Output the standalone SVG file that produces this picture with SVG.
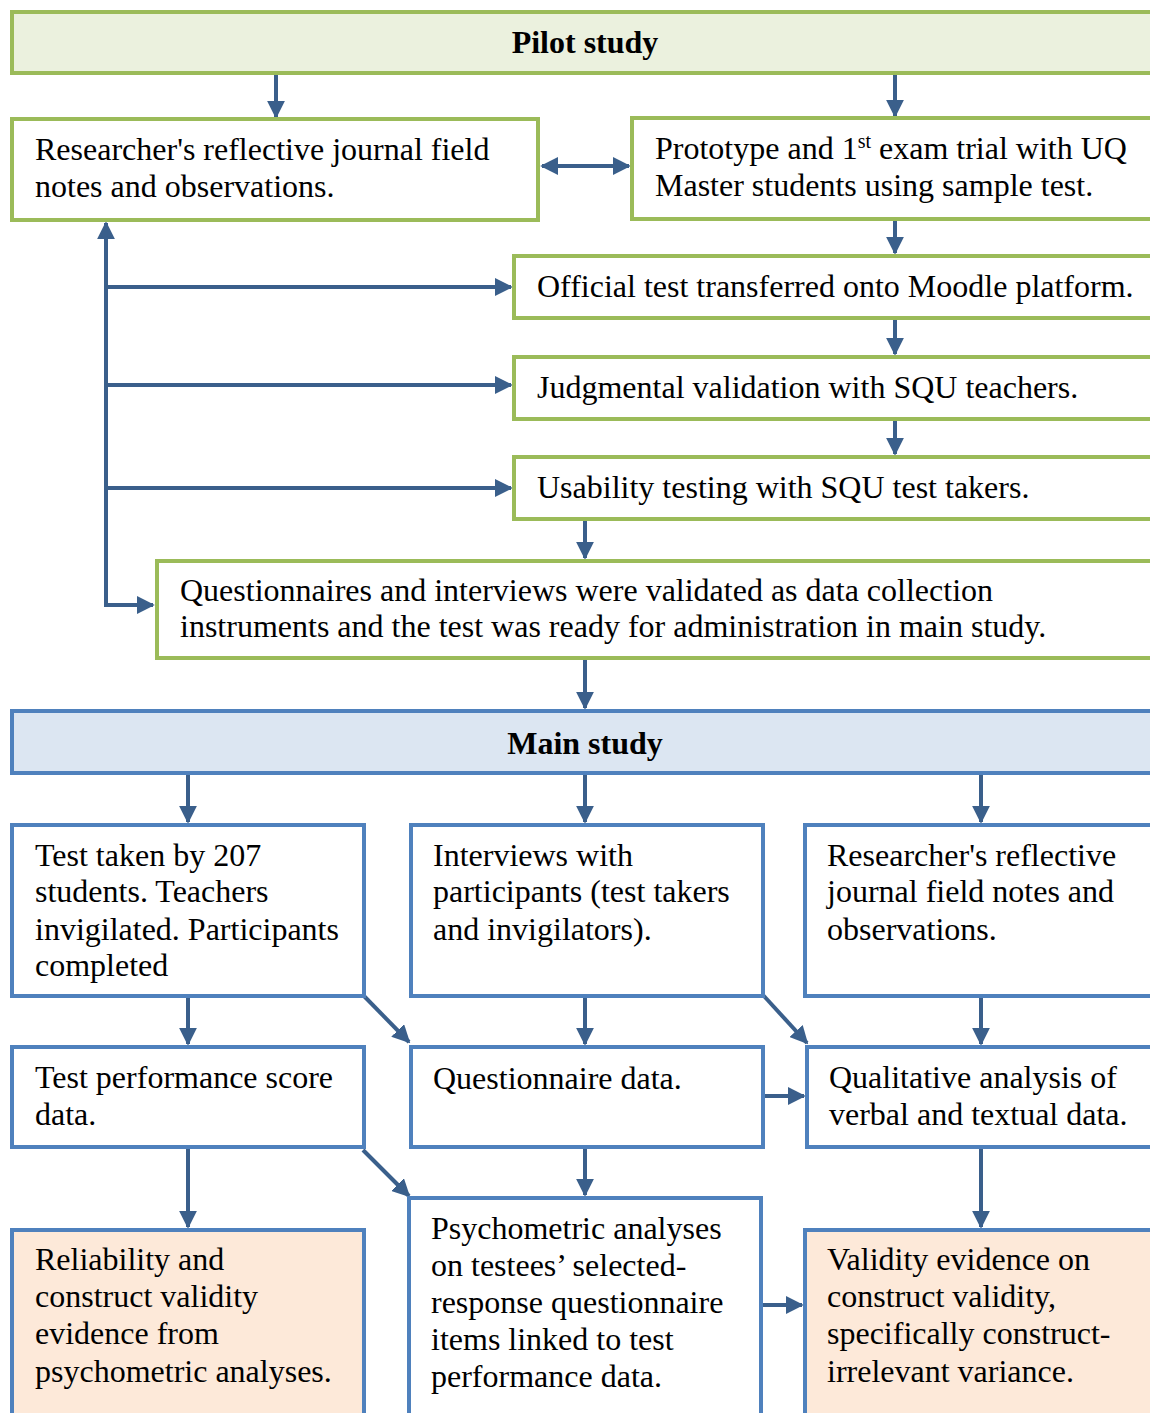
<svg xmlns="http://www.w3.org/2000/svg" width="1150" height="1413" viewBox="0 0 1150 1413">
<defs>
<marker id="ah" viewBox="0 0 10 10" refX="9" refY="5" markerWidth="4.5" markerHeight="4.5" markerUnits="strokeWidth" orient="auto-start-reverse"><path d="M0,0 L10,5 L0,10 Z" fill="#3A5F8B"/></marker>
<style>
.g{fill:#FFFFFF;stroke:#9BBB59;stroke-width:4}
.gh{fill:#EBF1DE;stroke:#9BBB59;stroke-width:4}
.b{fill:#FFFFFF;stroke:#4F81BD;stroke-width:4}
.bh{fill:#DCE6F2;stroke:#4F81BD;stroke-width:4}
.o{fill:#FDE9D9;stroke:#4F81BD;stroke-width:4}
.t{font-family:"Liberation Serif","Times New Roman",serif;font-size:32px;fill:#000}
.h{font-family:"Liberation Serif","Times New Roman",serif;font-size:32px;font-weight:bold;fill:#000}
.c{fill:none;stroke:#3A5F8B;stroke-width:4;marker-end:url(#ah)}
.l{fill:none;stroke:#3A5F8B;stroke-width:4}
</style>
</defs>
<g id="connectors">
<path class="c" d="M276,73 V117"/>
<path class="c" d="M895,73 V116"/>
<path class="c" style="marker-start:url(#ah)" d="M542,166 H629"/>
<path class="c" d="M895,220 V253"/>
<path class="c" d="M895,319 V354"/>
<path class="c" d="M895,420 V454"/>
<path class="c" d="M585,520 V558"/>
<path class="c" style="marker-start:url(#ah)" d="M106,223 V605 H153"/>
<path class="c" d="M106,287 H511"/>
<path class="c" d="M106,385 H511"/>
<path class="c" d="M106,488 H511"/>
<path class="c" d="M585,659 V708"/>
<path class="c" d="M188,774 V822"/>
<path class="c" d="M585,774 V822"/>
<path class="c" d="M981,774 V822"/>
<path class="c" d="M188,997 V1044"/>
<path class="c" d="M585,997 V1044"/>
<path class="c" d="M981,997 V1044"/>
<path class="c" d="M363,995 L409,1042"/>
<path class="c" d="M763,995 L807,1043"/>
<path class="c" d="M765,1096 H804"/>
<path class="c" d="M188,1148 V1227"/>
<path class="c" d="M585,1148 V1195"/>
<path class="c" d="M981,1148 V1227"/>
<path class="c" d="M363,1150 L409,1196"/>
<path class="c" d="M763,1305 H802"/>
</g>
<g id="pilot">
<rect class="gh" x="12" y="12" width="1150" height="61"/>
<text class="h" x="585" y="53" text-anchor="middle">Pilot study</text>
</g>
<g id="journal1">
<rect class="g" x="12" y="119" width="526" height="101"/>
<text class="t" x="35" y="160">Researcher's reflective journal field</text>
<text class="t" x="35" y="197">notes and observations.</text>
</g>
<g id="prototype">
<rect class="g" x="632" y="118" width="530" height="101"/>
<text class="t" x="655" y="159">Prototype and 1<tspan font-size="20" dy="-11">st</tspan><tspan dy="11"> exam trial with UQ</tspan></text>
<text class="t" x="655" y="196">Master students using sample test.</text>
</g>
<g id="official">
<rect class="g" x="514" y="256" width="650" height="62"/>
<text class="t" x="537" y="297">Official test transferred onto Moodle platform.</text>
</g>
<g id="judgmental">
<rect class="g" x="514" y="357" width="650" height="62"/>
<text class="t" x="537" y="398">Judgmental validation with SQU teachers.</text>
</g>
<g id="usability">
<rect class="g" x="514" y="457" width="650" height="62"/>
<text class="t" x="537" y="498">Usability testing with SQU test takers.</text>
</g>
<g id="validated">
<rect class="g" x="157" y="561" width="1010" height="97"/>
<text class="t" x="180" y="601">Questionnaires and interviews were validated as data collection</text>
<text class="t" x="180" y="637">instruments and the test was ready for administration in main study.</text>
</g>
<g id="main">
<rect class="bh" x="12" y="711" width="1150" height="62"/>
<text class="h" x="585" y="754" text-anchor="middle">Main study</text>
</g>
<g id="testtaken">
<rect class="b" x="12" y="825" width="352" height="171"/>
<text class="t" x="35" y="866">Test taken by 207</text>
<text class="t" x="35" y="902">students. Teachers</text>
<text class="t" x="35" y="940">invigilated. Participants</text>
<text class="t" x="35" y="976">completed</text>
</g>
<g id="interviews">
<rect class="b" x="411" y="825" width="352" height="171"/>
<text class="t" x="433" y="866">Interviews with</text>
<text class="t" x="433" y="902">participants (test takers</text>
<text class="t" x="433" y="940">and invigilators).</text>
</g>
<g id="journal2">
<rect class="b" x="805" y="825" width="360" height="171"/>
<text class="t" x="827" y="866">Researcher's reflective</text>
<text class="t" x="827" y="902">journal field notes and</text>
<text class="t" x="827" y="940">observations.</text>
</g>
<g id="scoredata">
<rect class="b" x="12" y="1047" width="352" height="100"/>
<text class="t" x="35" y="1088">Test performance score</text>
<text class="t" x="35" y="1125">data.</text>
</g>
<g id="qdata">
<rect class="b" x="411" y="1047" width="352" height="100"/>
<text class="t" x="433" y="1089">Questionnaire data.</text>
</g>
<g id="qualitative">
<rect class="b" x="807" y="1047" width="360" height="100"/>
<text class="t" x="829" y="1088">Qualitative analysis of</text>
<text class="t" x="829" y="1125">verbal and textual data.</text>
</g>
<g id="reliability">
<rect class="o" x="12" y="1230" width="352" height="200"/>
<text class="t" x="35" y="1270">Reliability and</text>
<text class="t" x="35" y="1307">construct validity</text>
<text class="t" x="35" y="1344">evidence from</text>
<text class="t" x="35" y="1382">psychometric analyses.</text>
</g>
<g id="psychometric">
<rect class="b" x="409" y="1198" width="352" height="230"/>
<text class="t" x="431" y="1239">Psychometric analyses</text>
<text class="t" x="431" y="1276">on testees’ selected-</text>
<text class="t" x="431" y="1313">response questionnaire</text>
<text class="t" x="431" y="1350">items linked to test</text>
<text class="t" x="431" y="1387">performance data.</text>
</g>
<g id="validity">
<rect class="o" x="805" y="1230" width="360" height="200"/>
<text class="t" x="827" y="1270">Validity evidence on</text>
<text class="t" x="827" y="1307">construct validity,</text>
<text class="t" x="827" y="1344">specifically construct-</text>
<text class="t" x="827" y="1382">irrelevant variance.</text>
</g>
</svg>
